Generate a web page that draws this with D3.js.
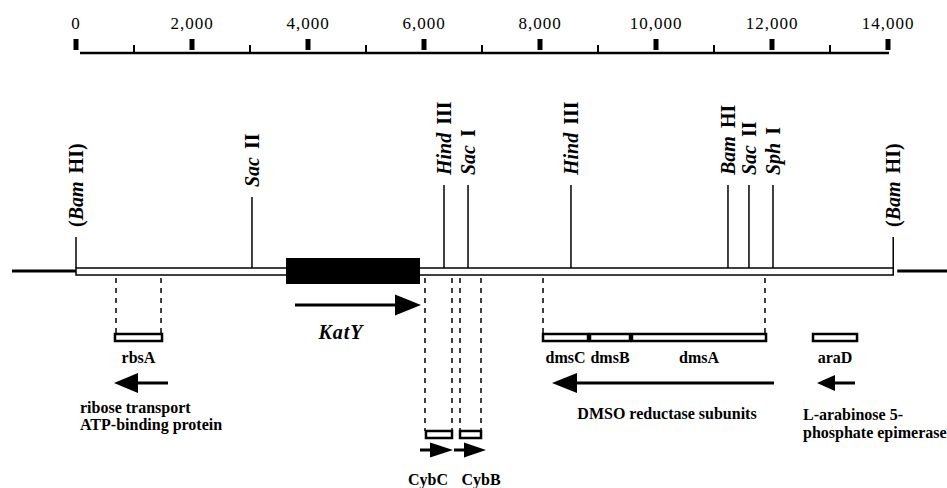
<!DOCTYPE html>
<html>
<head>
<meta charset="utf-8">
<script src="https://cdn.jsdelivr.net/npm/d3@7"></script>
<style>
  body { margin: 0; background: #fff; }
  svg { display: block; }
  text { font-family: "Liberation Serif", "Times New Roman", serif; }
</style>
</head>
<body>
<div id="map"></div>
<script>
const width = 947, height = 488;

// scale bar ticks (bp)
const majorTicks = [0, 2000, 4000, 6000, 8000, 10000, 12000, 14000];
const minorTicks = [1000, 3000, 5000, 7000, 9000, 11000, 13000];

// restriction sites (bp)
const siteEnzyme = ["Bam", "Sac", "Hind", "Sac", "Hind", "Bam", "Sac", "Sph", "Bam"];
const siteNumeral = ["HI", "II", "III", "I", "III", "HI", "II", "I", "HI"];
const siteBracket = [true, false, false, false, false, false, false, false, true];
const sitePos = [0, 3034, 6345, 6759, 8534, 11241, 11603, 12017, 14090];

// cloned fragment and katY block (bp)
const fragment = [0, 14090];
const katYBlock = [3621, 5931];

// genes (bp)
const geneNames = ["rbsA", "CybC", "CybB", "dmsC", "dmsB", "dmsA", "araD"];
const geneStart = [672, 6034, 6621, 8052, 8862, 9586, 12707];
const geneEnd = [1483, 6483, 6983, 8828, 9552, 11897, 13466];

// dashed guides from map to genes (bp, gene index)
const guidePos = [690, 1466, 6017, 6483, 6621, 6983, 8052, 11879];
const guideGene = [0, 0, 1, 1, 2, 2, 3, 5];

// transcription arrows (bp)
const arrowNames = ["rbsA", "KatY", "CybC", "CybB", "DMSO", "araD"];
const arrowTail = [1586, 3776, 5931, 6517, 12034, 13431];
const arrowTip = [655, 5948, 6500, 7069, 8207, 12776];

// layout
const axisY = 53, mapY = 271;
const stemTop = [237, 197, 185, 185, 185, 185, 185, 185, 237];
const geneRowY = { rbsA: 334, CybC: 431, CybB: 431, dmsC: 334, dmsB: 334, dmsA: 334, araD: 334 };
const geneLabelX = { CybC: 428, CybB: 481 };
const arrowStyle = {
  rbsA: { y: 383, len: 24, half: 10 },
  KatY: { y: 305, len: 26, half: 10.5 },
  CybC: { y: 450, len: 23, half: 7.5 },
  CybB: { y: 450, len: 22, half: 7.5 },
  DMSO: { y: 383, len: 25, half: 10 },
  araD: { y: 383, len: 18, half: 8 }
};

const svg = d3.select("#map").append("svg")
  .attr("width", width)
  .attr("height", height);

const x = d3.scaleLinear()
  .domain([0, 14000])
  .range([76, 888]);

// ---- scale bar ----
svg.append("line")
  .attr("x1", x(0) + 4).attr("x2", x(14000) + 1)
  .attr("y1", axisY).attr("y2", axisY)
  .attr("stroke", "#000").attr("stroke-width", 2.5);

svg.selectAll("rect.major")
  .data(majorTicks)
  .enter().append("rect")
  .attr("class", "major")
  .attr("x", d => x(d) - 2.5)
  .attr("y", 39)
  .attr("width", 5)
  .attr("height", 11)
  .attr("fill", "#000");

svg.selectAll("line.minor")
  .data(minorTicks)
  .enter().append("line")
  .attr("class", "minor")
  .attr("x1", d => x(d)).attr("x2", d => x(d))
  .attr("y1", 45).attr("y2", axisY)
  .attr("stroke", "#000").attr("stroke-width", 2);

svg.selectAll("text.tick")
  .data(majorTicks)
  .enter().append("text")
  .attr("class", "tick")
  .attr("x", d => x(d))
  .attr("y", 29)
  .attr("text-anchor", "middle")
  .style("font-size", "17px")
  .style("letter-spacing", "1px")
  .text(d => d3.format(",")(d));

// ---- physical map ----
svg.append("line")
  .attr("x1", 12).attr("x2", x(fragment[0]))
  .attr("y1", mapY).attr("y2", mapY)
  .attr("stroke", "#000").attr("stroke-width", 3);

svg.append("line")
  .attr("x1", x(fragment[1]) + 4).attr("x2", width)
  .attr("y1", mapY).attr("y2", mapY)
  .attr("stroke", "#000").attr("stroke-width", 3);

svg.append("rect")
  .attr("x", x(fragment[0]))
  .attr("y", 268)
  .attr("width", x(fragment[1]) - x(fragment[0]))
  .attr("height", 7)
  .attr("fill", "#fff")
  .attr("stroke", "#000")
  .attr("stroke-width", 1.5);

// restriction site stems and labels
const siteData = sitePos.map((p, i) => ({
  pos: p, enzyme: siteEnzyme[i], numeral: siteNumeral[i], bracket: siteBracket[i], top: stemTop[i]
}));

svg.selectAll("line.site")
  .data(siteData)
  .enter().append("line")
  .attr("class", "site")
  .attr("x1", d => x(d.pos)).attr("x2", d => x(d.pos))
  .attr("y1", d => d.top).attr("y2", 268)
  .attr("stroke", "#000").attr("stroke-width", 1.5);

const siteLabels = svg.selectAll("text.site")
  .data(siteData)
  .enter().append("text")
  .attr("class", "site")
  .attr("transform", d => `translate(${x(d.pos) + 7},${d.top - 10}) rotate(-90)`)
  .attr("text-anchor", "start")
  .style("font-size", "20px")
  .style("font-weight", "bold");

siteLabels.filter(d => d.bracket).append("tspan").text("(");
siteLabels.append("tspan").style("font-style", "italic").text(d => d.enzyme);
siteLabels.append("tspan").attr("dx", 8).text(d => d.numeral);
siteLabels.filter(d => d.bracket).append("tspan").text(")");

// katY block
svg.append("rect")
  .attr("x", x(katYBlock[0]))
  .attr("y", 258)
  .attr("width", x(katYBlock[1]) - x(katYBlock[0]))
  .attr("height", 26)
  .attr("fill", "#000");

// ---- genes ----
const geneData = geneNames.map((n, i) => ({ name: n, start: geneStart[i], end: geneEnd[i], y: geneRowY[n] }));

svg.selectAll("line.guide")
  .data(guidePos.map((p, i) => ({ pos: p, gene: geneData[guideGene[i]] })))
  .enter().append("line")
  .attr("class", "guide")
  .attr("x1", d => x(d.pos)).attr("x2", d => x(d.pos))
  .attr("y1", 278).attr("y2", d => d.gene.y)
  .attr("stroke", "#000")
  .attr("stroke-width", 1.5)
  .attr("stroke-dasharray", "5,5");

svg.selectAll("rect.gene")
  .data(geneData)
  .enter().append("rect")
  .attr("class", "gene")
  .attr("x", d => x(d.start))
  .attr("y", d => d.y)
  .attr("width", d => x(d.end) - x(d.start))
  .attr("height", 7)
  .attr("fill", "#fff")
  .attr("stroke", "#000")
  .attr("stroke-width", 2.5);

svg.selectAll("text.gene")
  .data(geneData)
  .enter().append("text")
  .attr("class", "gene")
  .attr("x", d => geneLabelX[d.name] !== undefined ? geneLabelX[d.name] : (x(d.start) + x(d.end)) / 2)
  .attr("y", d => d.y === 334 ? 363 : 485)
  .attr("text-anchor", "middle")
  .style("font-size", "16px")
  .style("font-weight", "bold")
  .text(d => d.name);

// ---- arrows ----
const arrowData = arrowNames.map((n, i) => ({ name: n, tail: arrowTail[i], tip: arrowTip[i], s: arrowStyle[n] }));

svg.selectAll("line.arrow")
  .data(arrowData)
  .enter().append("line")
  .attr("class", "arrow")
  .attr("x1", d => x(d.tail))
  .attr("x2", d => x(d.tip) + (d.tip < d.tail ? d.s.len : -d.s.len))
  .attr("y1", d => d.s.y).attr("y2", d => d.s.y)
  .attr("stroke", "#000").attr("stroke-width", 3);

svg.selectAll("path.arrow")
  .data(arrowData)
  .enter().append("path")
  .attr("class", "arrow")
  .attr("d", d => {
    const tip = x(d.tip), dir = d.tip < d.tail ? 1 : -1;
    const base = tip + dir * d.s.len;
    return `M${tip},${d.s.y}L${base},${d.s.y - d.s.half}L${base},${d.s.y + d.s.half}Z`;
  })
  .attr("fill", "#000");

// ---- annotations ----
svg.append("text")
  .attr("x", 341).attr("y", 339)
  .attr("text-anchor", "middle")
  .style("font-size", "20px")
  .style("font-weight", "bold")
  .style("font-style", "italic")
  .style("letter-spacing", "1px")
  .text("KatY");

const notes = [
  { x: 80, y: 413, anchor: "start", t: "ribose transport" },
  { x: 80, y: 430, anchor: "start", t: "ATP-binding protein" },
  { x: 667, y: 419, anchor: "middle", t: "DMSO reductase subunits" },
  { x: 803, y: 420, anchor: "start", t: "L-arabinose 5-" },
  { x: 803, y: 438, anchor: "start", t: "phosphate epimerase" }
];

svg.selectAll("text.note")
  .data(notes)
  .enter().append("text")
  .attr("class", "note")
  .attr("x", d => d.x).attr("y", d => d.y)
  .attr("text-anchor", d => d.anchor)
  .style("font-size", "16px")
  .style("font-weight", "bold")
  .text(d => d.t);
</script>
</body>
</html>
